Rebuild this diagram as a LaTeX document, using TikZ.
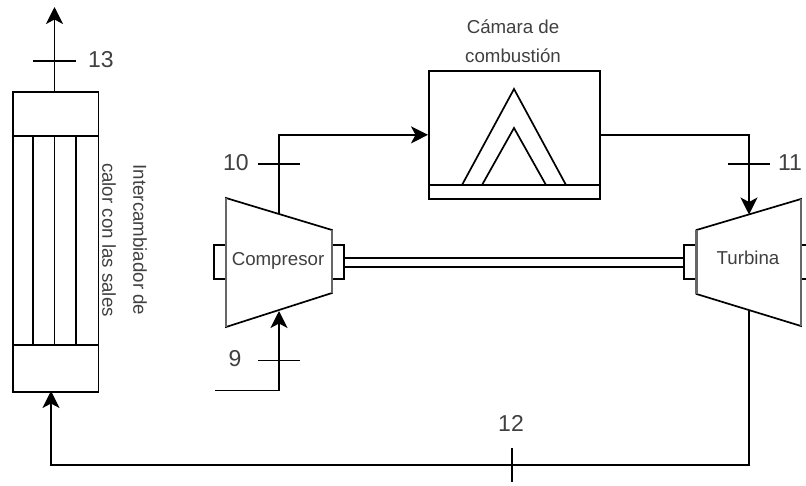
\documentclass[tikz,border=0pt]{standalone}
\usepackage{fontspec}
\setmainfont{Liberation Sans}
\usetikzlibrary{arrows.meta,calc}
\definecolor{lbl}{gray}{0.25}
\tikzset{
  x=1pt,y=-1pt,
  ln/.style={line width=1.7pt,black,line join=miter},
  flow/.style={ln,-{Stealth[length=17pt,width=17pt,inset=4.5pt]}},
  box/.style={ln,draw,rectangle,inner sep=0pt,anchor=north west},
  edge/.style={line width=2.6pt,black!60},
  lab/.style={font=\fontsize{18.7}{29.5}\selectfont,text=lbl,inner sep=0pt,align=center},
  num/.style={font=\fontsize{23}{28}\selectfont,text=lbl,inner sep=0pt},
}
\begin{document}
\begin{tikzpicture}
\clip (0,0) rectangle (806,485);
\useasboundingbox (0,0) rectangle (806,485);
\fill[white] (0,0) rectangle (806,485);
% heat exchanger
\node[box,minimum width=85.5pt,minimum height=300pt] (hx) at (12,91) {};
\coordinate (hxa) at (12,136); \coordinate (hxb) at (97.5,136);
\coordinate (hxc) at (12,345); \coordinate (hxd) at (97.5,345);
\draw[ln] (hxa) -- (hxb) (hxc) -- (hxd);
\draw[ln] (33,136) -- (33,345) (54.5,136) -- (54.5,345) (76,136) -- (76,345);
\node[lab,rotate=-90] (hxl1) at (140,240) {Intercambiador de};
\node[lab,rotate=-90] (hxl2) at (109,240) {calor con las sales};
% combustion chamber
\node[box,minimum width=171pt,minimum height=128pt] (cc) at (428,70) {};
\draw[ln] (428,185) -- (599,185);
\draw[ln] (462,185) -- (514,89) -- (566,185);
\draw[ln] (482,185) -- (514,128) -- (546,185);
\node[lab] (ccl) at (513,41) {Cámara de\\combustión};
% shaft
\draw[ln] (344,258) -- (684,258) (344,267) -- (684,267);
% compressor
\draw[ln] (214,245) rectangle (226,279);
\draw[ln] (332,245) rectangle (344,279);
\draw[ln] (226,198) -- (332,230) -- (332,293) -- (226,327) -- cycle;
\draw[edge] (226,198) -- (226,327) (332,230) -- (332,293);
\node[lab] (comp) at (278,261) {Compresor};
% turbine
\draw[ln] (684,245) rectangle (696.5,279);
\draw[ln] (801,245) rectangle (815,279);
\draw[ln] (696.5,230) -- (801,199) -- (801,326) -- (696.5,294) -- cycle;
\draw[edge] (696.5,230) -- (696.5,294) (801,199) -- (801,326);
\node[lab] (turb) at (748,258) {Turbina};
% named ports
\coordinate (compout) at (279,214);
\coordinate (compin) at (279,311);
\coordinate (turbin) at (749,214.5);
\coordinate (turbout) at (749,311);
\coordinate (feed) at (215,390.5);
\coordinate (hxin) at (51,391);
\coordinate (hxout) at (54.5,91);
\coordinate (vent) at (54.5,7);
% connectors
\draw[flow] (compout) |- (cc.west);
\draw[flow] (cc.east) -| (turbin);
\draw[flow] (turbout) |- (51,465) -- (hxin);
\draw[flow] (feed) -| (compin);
\draw[flow] (hxout) -- (vent);
% ticks
\draw[ln] (33,61) coordinate (t13a) -- (76,61) coordinate (t13b);
\draw[ln] (258,164) coordinate (t10a) -- (300,164) coordinate (t10b);
\draw[ln] (728,164) coordinate (t11a) -- (770,164) coordinate (t11b);
\draw[ln] (258,360.5) coordinate (t9a) -- (300,360.5) coordinate (t9b);
\draw[ln] (512,448) coordinate (t12a) -- (512,482) coordinate (t12b);
% numbers
\node[num] (n13) at (101,60) {13};
\node[num] (n10) at (236,163) {10};
\node[num] (n11) at (790,163) {11};
\node[num] (n9) at (235,359) {9};
\node[num] (n12) at (511,423) {12};
\end{tikzpicture}
\end{document}
